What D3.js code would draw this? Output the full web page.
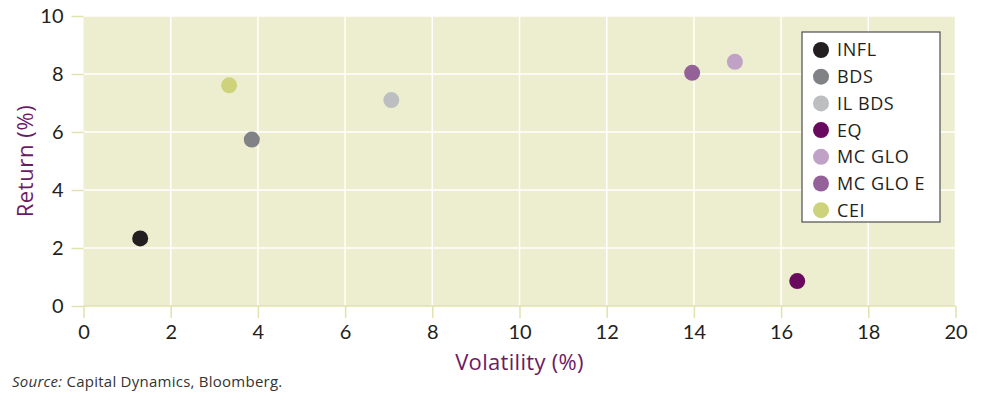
<!DOCTYPE html>
<html>
<head>
<meta charset="utf-8">
<script src="https://cdn.jsdelivr.net/npm/d3@7"></script>
<style>
  body { margin: 0; background: #fff; }
  svg { display: block; font-family: "Open Sans", "Noto Sans", sans-serif; }
</style>
</head>
<body>
<div id="chart"></div>
<script>
// data
const names = ["INFL", "BDS", "IL BDS", "EQ", "MC GLO", "MC GLO E", "CEI"];
const volatility = [1.30, 3.86, 7.06, 16.37, 14.94, 13.96, 3.34];
const returns = [2.33, 5.74, 7.10, 0.86, 8.42, 8.04, 7.61];
const colors = ["#231f20", "#808285", "#bcbec0", "#6a0a5e", "#bfa2c5", "#946198", "#cdd27b"];
const xTicks = [0, 2, 4, 6, 8, 10, 12, 14, 16, 18, 20];
const yTicks = [0, 2, 4, 6, 8, 10];

const W = 985, H = 403;
const margin = {top: 16, right: 30, bottom: 97, left: 83.5};
const width = 955.5 - margin.left;
const height = 306 - margin.top;

const svg = d3.select("#chart").append("svg")
    .attr("width", W)
    .attr("height", H);

const g = svg.append("g")
    .attr("transform", "translate(" + margin.left + "," + margin.top + ")");

const xScale = d3.scaleLinear().domain([0, 20]).range([0, width]);
const yScale = d3.scaleLinear().domain([0, 10]).range([height, 0]);

// plot background
g.append("rect")
    .attr("width", width)
    .attr("height", height)
    .attr("fill", "#edeecf");

// white grid
g.append("g").selectAll("line").data(xTicks.slice(1)).join("line")
    .attr("x1", d => xScale(d)).attr("x2", d => xScale(d))
    .attr("y1", 0).attr("y2", height)
    .attr("stroke", "#fff").attr("stroke-width", 1.5);
g.append("g").selectAll("line").data(yTicks.slice(1)).join("line")
    .attr("x1", 0).attr("x2", width)
    .attr("y1", d => yScale(d)).attr("y2", d => yScale(d))
    .attr("stroke", "#fff").attr("stroke-width", 1.5);

// axes
const xAxis = g.append("g")
    .attr("transform", "translate(0," + height + ")")
    .call(d3.axisBottom(xScale).tickValues(xTicks).tickSize(12).tickPadding(7));
const yAxis = g.append("g")
    .call(d3.axisLeft(yScale).tickValues(yTicks).tickSize(12).tickPadding(8));

[xAxis, yAxis].forEach(ax => {
    ax.select(".domain").remove();
    ax.selectAll(".tick line").attr("stroke", "#e1e2ae").attr("stroke-width", 1.5);
    ax.selectAll(".tick text")
        .attr("fill", "#231f20")
        .style("font-size", "20px")
        .style("font-family", "Lato, 'Noto Sans', sans-serif");
});
// bottom baseline slightly darker than the fill
g.append("line")
    .attr("x1", 0).attr("x2", width)
    .attr("y1", height).attr("y2", height)
    .attr("stroke", "#e1e2ae").attr("stroke-width", 1.5);

// points
const pts = names.map((n, i) => ({name: n, x: volatility[i], y: returns[i], color: colors[i]}));
g.selectAll(".pointCircle").data(pts).join("circle")
    .attr("class", "pointCircle")
    .attr("cx", d => xScale(d.x))
    .attr("cy", d => yScale(d.y))
    .attr("r", 8)
    .attr("fill", d => d.color);

// axis titles
svg.append("text")
    .attr("x", margin.left + width / 2)
    .attr("y", 370)
    .attr("text-anchor", "middle")
    .attr("fill", "#6b1a66")
    .style("font-size", "22px")
    .style("letter-spacing", "0.3px")
    .text("Volatility (%)");
svg.append("text")
    .attr("transform", "translate(33," + (margin.top + height / 2) + ") rotate(-90)")
    .attr("text-anchor", "middle")
    .attr("fill", "#6b1a66")
    .style("font-size", "22px")
    .style("letter-spacing", "0.6px")
    .text("Return (%)");

// legend
const legend = svg.append("g").attr("transform", "translate(802,32)");
legend.append("rect")
    .attr("width", 138).attr("height", 190)
    .attr("fill", "#fff")
    .attr("stroke", "#4d4d4f").attr("stroke-width", 1.2);
const item = legend.selectAll(".legendItem").data(pts).join("g")
    .attr("class", "legendItem")
    .attr("transform", (d, i) => "translate(0," + (18 + i * 26.7) + ")");
item.append("circle").attr("cx", 19).attr("r", 8).attr("fill", d => d.color);
item.append("text")
    .attr("x", 35).attr("dy", "0.36em")
    .attr("fill", "#231f20")
    .style("font-size", "18px")
    .style("letter-spacing", "0.6px")
    .text(d => d.name);

// source note
const src = svg.append("text")
    .attr("x", 12).attr("y", 387)
    .attr("fill", "#333")
    .style("font-size", "15px")
    .style("letter-spacing", "0.25px");
src.append("tspan").style("font-style", "italic").text("Source:");
src.append("tspan").text(" Capital Dynamics, Bloomberg.");
</script>
</body>
</html>
